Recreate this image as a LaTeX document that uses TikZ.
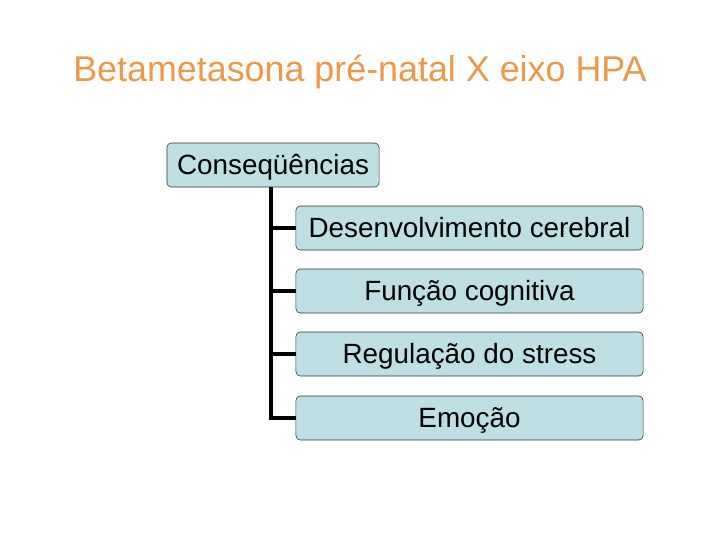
\documentclass[tikz,border=0pt]{standalone}
\usepackage{fontspec}
\setmainfont{Liberation Sans}
\usepackage{tikz}
\definecolor{titleorange}{RGB}{238,152,72}
\definecolor{boxblue}{RGB}{190,224,228}

\begin{document}
\begin{tikzpicture}[
    x=0.025cm, y=-0.025cm,
    topic/.style={draw=black!80, fill=boxblue, rounded corners=3pt,
                  minimum width=8.675cm, minimum height=1.1cm,
                  text height=17.9pt, text depth=4.2pt,
                  font=\fontsize{19.8}{22}\selectfont, inner sep=0pt},
    branch/.style={line width=2.2pt},
    ]
    \useasboundingbox (0,0) rectangle (720,540);
    \node[text=titleorange, font=\fontsize{25.5}{30}\selectfont,
          text height=23.1pt, text depth=5.4pt] (title) at (360,69)
        {Betametasona pré-natal X eixo HPA};
    \node[topic, minimum width=5.3cm] (conseq) at (273,165) {Conseqüências};
    \node[topic] (brain)   at (469.5,228) {Desenvolvimento cerebral};
    \node[topic] (cognit)  at (469.5,291) {Função cognitiva};
    \node[topic] (stress)  at (469.5,354) {Regulação do stress};
    \node[topic] (emotion) at (469.5,418) {Emoção};
    \coordinate (trunk) at ([xshift=-2*0.025cm]conseq.south);
    \draw[branch] (trunk) |- (emotion.west);
    \foreach \n in {brain, cognit, stress}
        \draw[branch] (trunk |- \n.west) -- (\n.west);
\end{tikzpicture}
\end{document}
